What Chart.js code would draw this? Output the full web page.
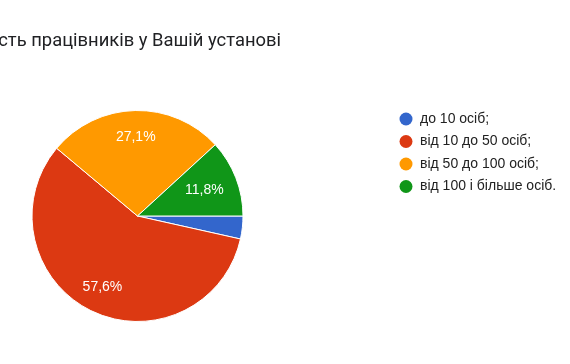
<!DOCTYPE html>
<html>
<head>
<meta charset="utf-8">
<script src="https://cdn.jsdelivr.net/npm/chart.js@4"></script>
<style>
  html, body { margin: 0; padding: 0; background: #fff; }
  #wrap { width: 570px; height: 364px; }
</style>
</head>
<body>
<div id="wrap"><canvas id="graph" width="570" height="364"></canvas></div>
<script>
const graph = document.getElementById('graph');

const title = "Кількість працівників у Вашій установі";
const categories = ["до 10 осіб;", "від 10 до 50 осіб;", "від 50 до 100 осіб;", "від 100 і більше осіб."];
const values = [3.5, 57.6, 27.1, 11.8];
const colors = ["#3366cc", "#dc3912", "#ff9900", "#109618"];

// title, cut at the left edge like the screenshot
const titlePlugin = {
    id: 'titleCut',
    afterDraw(chart) {
        const ctx = chart.ctx;
        ctx.save();
        ctx.font = '18px Roboto';
        const w = ctx.measureText(title.slice(title.indexOf('сть'))).width;
        const size = 18 * 283 / w;
        ctx.font = size.toFixed(2) + 'px Roboto';
        ctx.fillStyle = '#202124';
        ctx.textAlign = 'right';
        ctx.textBaseline = 'middle';
        ctx.fillText(title, 281, 41);
        ctx.restore();
    }
};

// percent labels inside slices
const sliceLabels = {
    id: 'sliceLabels',
    afterDatasetsDraw(chart) {
        const ctx = chart.ctx;
        const meta = chart.getDatasetMeta(0);
        const total = values.reduce((a, b) => a + b, 0);
        ctx.save();
        ctx.font = '14px "Liberation Sans", Arial';
        ctx.fillStyle = '#fff';
        ctx.textAlign = 'center';
        ctx.textBaseline = 'middle';
        meta.data.forEach((arc, i) => {
            const pct = values[i] / total * 100;
            if (pct < 5) return;
            const p = arc.getProps(['x', 'y', 'startAngle', 'endAngle', 'outerRadius'], true);
            const mid = (p.startAngle + p.endAngle) / 2;
            const r = p.outerRadius * (pct < 15 ? 0.68 : 0.75);
            ctx.fillText(pct.toFixed(1).replace('.', ',') + '%', p.x + Math.cos(mid) * r, p.y + Math.sin(mid) * r);
        });
        ctx.restore();
    }
};

// legend on the right
const sideLegend = {
    id: 'sideLegend',
    afterDraw(chart) {
        const ctx = chart.ctx;
        ctx.save();
        ctx.font = '14px "Liberation Sans", Arial';
        ctx.textBaseline = 'middle';
        categories.forEach((c, i) => {
            const y = 119 + i * 22.5;
            ctx.fillStyle = colors[i];
            ctx.beginPath();
            ctx.arc(406, y, 6.5, 0, Math.PI * 2);
            ctx.fill();
            ctx.fillStyle = '#222';
            ctx.fillText(c, 420, y);
        });
        ctx.restore();
    }
};

new Chart(graph, {
    type: "pie",
    data: {
        labels: categories,
        datasets: [{
            data: values,
            backgroundColor: colors,
            borderColor: "#fff",
            borderWidth: 1
        }]
    },
    options: {
        responsive: false,
        animation: false,
        rotation: 90,
        layout: { padding: { left: 31.5, right: 326.5, top: 110, bottom: 42 } },
        plugins: {
            legend: { display: false },
            tooltip: { enabled: false }
        }
    },
    plugins: [titlePlugin, sliceLabels, sideLegend]
});
</script>
</body>
</html>
